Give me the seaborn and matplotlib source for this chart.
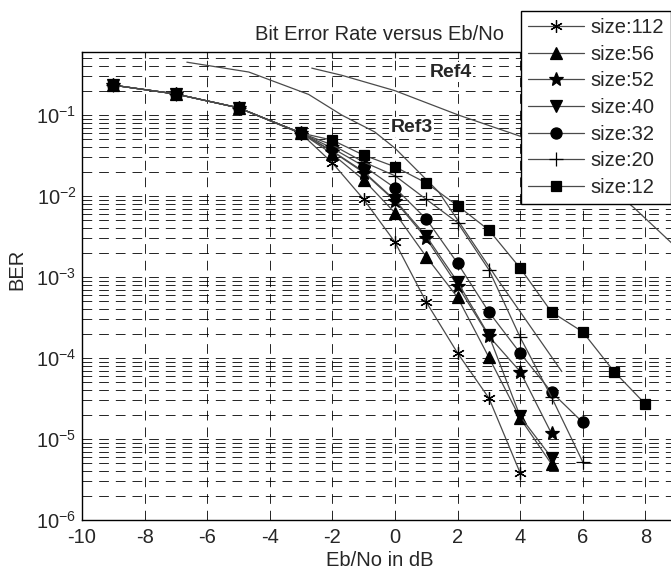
import numpy as np
import matplotlib
matplotlib.use('Agg')
import matplotlib.pyplot as plt
import seaborn as sns
from matplotlib.ticker import LogLocator, NullFormatter

# Eb/No (dB) sample points and BER
eb_no_112 = [-9, -7, -5, -3, -2, -1, 0, 1, 2, 3, 4]
ber_112 = [0.234, 0.182, 0.123, 0.059, 0.0257, 0.0091, 0.0027, 4.9e-4, 1.15e-4, 3.2e-5, 3.8e-6]

eb_no_56 = [-9, -7, -5, -3, -2, -1, 0, 1, 2, 3, 4, 5]
ber_56 = [0.234, 0.182, 0.123, 0.060, 0.033, 0.0158, 0.0062, 0.00178, 5.6e-4, 1.02e-4, 1.8e-5, 4.9e-6]

eb_no_52 = [-9, -7, -5, -3, -2, -1, 0, 1, 2, 3, 4, 5]
ber_52 = [0.234, 0.182, 0.123, 0.060, 0.0355, 0.0195, 0.0087, 0.0030, 7.8e-4, 1.86e-4, 6.8e-5, 1.17e-5]

eb_no_40 = [-9, -7, -5, -3, -2, -1, 0, 1, 2, 3, 4, 5]
ber_40 = [0.234, 0.182, 0.123, 0.060, 0.036, 0.020, 0.0089, 0.0032, 8.7e-4, 1.9e-4, 1.9e-5, 5.9e-6]

eb_no_32 = [-9, -7, -5, -3, -2, -1, 0, 1, 2, 3, 4, 5, 6]
ber_32 = [0.234, 0.182, 0.123, 0.060, 0.039, 0.0234, 0.0126, 0.0052, 0.00148, 3.7e-4, 1.15e-4, 3.8e-5, 1.6e-5]

eb_no_20 = [-9, -7, -5, -3, -2, -1, 0, 1, 2, 3, 4, 5, 6]
ber_20 = [0.234, 0.182, 0.123, 0.060, 0.0427, 0.0263, 0.0178, 0.0091, 0.0047, 0.00123, 1.8e-4, 3.3e-5, 5.2e-6]

eb_no_12 = [-9, -7, -5, -3, -2, -1, 0, 1, 2, 3, 4, 5, 6, 7, 8]
ber_12 = [0.234, 0.182, 0.123, 0.060, 0.049, 0.032, 0.023, 0.0145, 0.0076, 0.0038, 0.00129, 3.7e-4, 2.1e-4, 6.8e-5, 2.7e-5]

# reference curves (no markers)
ref3_eb_no = [-6.65, -4.67, -2.76, -1.7, -0.65, 0, 1.4, 3.3, 5.33]
ref3_ber = [0.45, 0.34, 0.18, 0.10, 0.062, 0.039, 0.0112, 9.1e-4, 6.8e-5]
ref4_eb_no = [-2.66, -1.7, 0, 2.03, 4.05, 6, 7.63, 8.9]
ref4_ber = [0.38, 0.31, 0.20, 0.10, 0.054, 0.024, 0.0072, 0.0025]

labels = ['size:112', 'size:56', 'size:52', 'size:40', 'size:32', 'size:20', 'size:12']
x_ticks = [-10, -8, -6, -4, -2, 0, 2, 4, 6, 8]
y_ticks = [1e-6, 1e-5, 1e-4, 1e-3, 1e-2, 1e-1]

sns.set_style('white')
plt.rcParams['font.family'] = ['Liberation Sans', 'DejaVu Sans']
plt.rcParams['mathtext.fontset'] = 'custom'
plt.rcParams['mathtext.rm'] = 'Liberation Sans'
plt.rcParams['mathtext.it'] = 'Liberation Sans:italic'
plt.rcParams['mathtext.bf'] = 'Liberation Sans:bold'
plt.rcParams['lines.scale_dashes'] = False
plt.rcParams['axes.unicode_minus'] = False

fig = plt.figure(figsize=(6.71, 5.71), dpi=100)
ax = fig.add_axes([82 / 671, 51 / 571, 594.7 / 671, 467.7 / 571])
ax.set_yscale('log')

line_color = '#4a4a4a'
series = [
    (eb_no_112, ber_112, (6, 2, 0), 9),
    (eb_no_56, ber_56, '^', 8),
    (eb_no_52, ber_52, '*', 10),
    (eb_no_40, ber_40, 'v', 8),
    (eb_no_32, ber_32, 'o', 8),
    (eb_no_20, ber_20, '+', 10),
    (eb_no_12, ber_12, 's', 7),
]
for (xs, ys, mk, ms), lab in zip(series, labels):
    sns.lineplot(x=xs, y=ys, ax=ax, color=line_color, linewidth=0.9,
                 marker=mk, markersize=ms, markerfacecolor='black',
                 markeredgecolor='black', markeredgewidth=0.9,
                 label=lab, zorder=3)

sns.lineplot(x=ref3_eb_no, y=ref3_ber, ax=ax, color=line_color, linewidth=0.9, zorder=2)
sns.lineplot(x=ref4_eb_no, y=ref4_ber, ax=ax, color=line_color, linewidth=0.9, zorder=2)

ax.set_xlim(-10, 9)
ax.set_ylim(1e-6, 0.596)
ax.set_xticks(x_ticks)
ax.set_yticks(y_ticks)
ax.yaxis.set_minor_locator(LogLocator(base=10, subs=np.arange(2, 10)))
ax.yaxis.set_minor_formatter(NullFormatter())

dash = (0, (7, 5))
ax.grid(True, which='major', axis='both', color='black', linestyle=dash, linewidth=0.6)
ax.grid(True, which='minor', axis='y', color='black', linestyle=dash, linewidth=0.6)
ax.set_axisbelow(True)

ax.tick_params(which='both', direction='in', top=True, right=True, labelsize=14.5, width=0.8)
ax.tick_params(which='major', length=4, pad=6)
ax.tick_params(axis='y', which='major', pad=4)
ax.tick_params(which='minor', length=2.5)
for sp in ax.spines.values():
    sp.set_color('black')
    sp.set_linewidth(1.0)

ax.set_title('Bit Error Rate versus Eb/No', fontsize=14.5, pad=9)
ax.set_xlabel('Eb/No in dB', fontsize=14.5, labelpad=3)
ax.set_ylabel('BER', fontsize=14.5)
ax.yaxis.set_label_coords(-0.094, 0.535)

ax.text(1.78, 0.34, 'Ref4', fontsize=14, fontweight='bold', ha='center', va='center',
        bbox=dict(facecolor='white', edgecolor='none', pad=1))
ax.text(0.53, 0.071, 'Ref3', fontsize=14, fontweight='bold', ha='center', va='center',
        bbox=dict(facecolor='white', edgecolor='none', pad=1))

handles, labs = ax.get_legend_handles_labels()
if ax.get_legend() is not None:
    ax.get_legend().remove()
leg = fig.legend(handles, labs, loc='upper left', bbox_to_anchor=(521 / 671, 1 - 11 / 571),
                 frameon=True, fancybox=False, edgecolor='black', framealpha=1,
                 fontsize=14.5, handlelength=2.8, handletextpad=0.3, borderpad=0.35,
                 labelspacing=0.38, borderaxespad=0)
leg.get_frame().set_linewidth(1.0)

fig.savefig('out.png', dpi=100)
